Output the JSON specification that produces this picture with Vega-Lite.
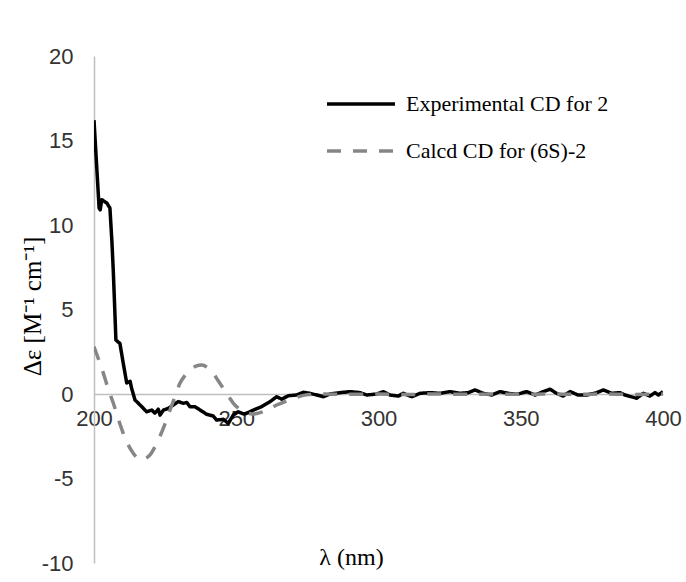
{
  "$schema": "https://vega.github.io/schema/vega-lite/v6.json",
  "width": 569,
  "height": 507,
  "autosize": {"type": "none"},
  "padding": {"left": 94, "top": 56, "right": 23, "bottom": 19},
  "background": "white",
  "config": {"view": {"stroke": null}},
  "datasets": {
    "exp": [
      {"wl": 200, "de": 16.2}, {"wl": 200.9, "de": 13.6}, {"wl": 201.8, "de": 11.0}, {"wl": 202.2, "de": 10.9},
      {"wl": 202.7, "de": 11.5}, {"wl": 203.6, "de": 11.4}, {"wl": 204.5, "de": 11.3}, {"wl": 205.6, "de": 11.0},
      {"wl": 206.3, "de": 9.0}, {"wl": 206.8, "de": 7.2}, {"wl": 207.3, "de": 5.0}, {"wl": 207.7, "de": 3.2},
      {"wl": 208.3, "de": 3.1}, {"wl": 209.1, "de": 3.0}, {"wl": 210.3, "de": 1.8}, {"wl": 211.5, "de": 0.65},
      {"wl": 212.7, "de": 0.75}, {"wl": 213.2, "de": 0.35}, {"wl": 214.4, "de": -0.35}, {"wl": 216.2, "de": -0.65},
      {"wl": 218.5, "de": -1.05}, {"wl": 220.3, "de": -0.95}, {"wl": 221.4, "de": -1.13}, {"wl": 222.6, "de": -0.9},
      {"wl": 223.2, "de": -1.25}, {"wl": 224.4, "de": -0.95}, {"wl": 226.1, "de": -0.85}, {"wl": 227.9, "de": -0.65},
      {"wl": 229.6, "de": -0.45}, {"wl": 231.4, "de": -0.55}, {"wl": 232.6, "de": -0.5}, {"wl": 233.7, "de": -0.75},
      {"wl": 235.5, "de": -0.75}, {"wl": 237.3, "de": -0.95}, {"wl": 239.6, "de": -1.2}, {"wl": 241.9, "de": -1.3},
      {"wl": 243.1, "de": -1.54}, {"wl": 245.5, "de": -1.5}, {"wl": 247.2, "de": -1.74}, {"wl": 249.0, "de": -1.24},
      {"wl": 250.7, "de": -1.05}, {"wl": 252.5, "de": -1.18}, {"wl": 253.7, "de": -1.14}, {"wl": 256.0, "de": -0.95},
      {"wl": 258.9, "de": -0.75}, {"wl": 261.9, "de": -0.45}, {"wl": 264.2, "de": -0.16}, {"wl": 266.0, "de": -0.31},
      {"wl": 268.3, "de": -0.1}, {"wl": 271.2, "de": -0.06}, {"wl": 273.6, "de": 0.1}, {"wl": 275.9, "de": 0.04},
      {"wl": 278.3, "de": -0.06}, {"wl": 280.6, "de": -0.16}, {"wl": 283, "de": 0}, {"wl": 286.5, "de": 0.08},
      {"wl": 290, "de": 0.14}, {"wl": 293.5, "de": 0.08}, {"wl": 295.9, "de": -0.06}, {"wl": 299.4, "de": 0},
      {"wl": 301.7, "de": 0.14}, {"wl": 304, "de": -0.06}, {"wl": 307, "de": -0.12}, {"wl": 308.7, "de": 0.04},
      {"wl": 311.7, "de": -0.16}, {"wl": 314.6, "de": 0.04}, {"wl": 318.1, "de": 0.08}, {"wl": 321.6, "de": 0.04},
      {"wl": 325.1, "de": 0.14}, {"wl": 328.6, "de": 0.04}, {"wl": 331.6, "de": 0.08}, {"wl": 333.9, "de": 0.24},
      {"wl": 336.8, "de": 0.04}, {"wl": 339.8, "de": -0.06}, {"wl": 342.7, "de": 0.14}, {"wl": 345.6, "de": 0.04},
      {"wl": 348.6, "de": -0.02}, {"wl": 352.1, "de": 0.14}, {"wl": 355, "de": -0.06}, {"wl": 357.9, "de": 0.14},
      {"wl": 360.3, "de": 0.28}, {"wl": 362.6, "de": 0.04}, {"wl": 364.9, "de": -0.12}, {"wl": 367.3, "de": 0.14},
      {"wl": 370.2, "de": -0.06}, {"wl": 373.2, "de": -0.06}, {"wl": 376.7, "de": 0.08}, {"wl": 379, "de": 0.24},
      {"wl": 382, "de": 0.04}, {"wl": 384.9, "de": 0.08}, {"wl": 386.6, "de": -0.06}, {"wl": 390.7, "de": -0.25},
      {"wl": 393.1, "de": 0.04}, {"wl": 395.4, "de": -0.12}, {"wl": 397.2, "de": 0.08}, {"wl": 398.4, "de": -0.06},
      {"wl": 400, "de": 0.14}
    ],
    "calc": [
      {"wl": 200, "de": 2.8}, {"wl": 201.5, "de": 2.1}, {"wl": 203.3, "de": 1.22}, {"wl": 205, "de": 0.3},
      {"wl": 206.8, "de": -0.55}, {"wl": 208.5, "de": -1.45}, {"wl": 210.3, "de": -2.33}, {"wl": 212, "de": -3.0},
      {"wl": 213.8, "de": -3.5}, {"wl": 215.3, "de": -3.8}, {"wl": 216.8, "de": -3.9}, {"wl": 218.2, "de": -3.8},
      {"wl": 219.7, "de": -3.6}, {"wl": 221.5, "de": -3.1}, {"wl": 223.2, "de": -2.5}, {"wl": 225, "de": -1.75},
      {"wl": 226.7, "de": -0.95}, {"wl": 228.5, "de": -0.15}, {"wl": 230.2, "de": 0.63}, {"wl": 232, "de": 1.1},
      {"wl": 233.7, "de": 1.42}, {"wl": 235.8, "de": 1.65}, {"wl": 237.9, "de": 1.72}, {"wl": 240, "de": 1.55},
      {"wl": 241.9, "de": 1.22}, {"wl": 243.6, "de": 0.8}, {"wl": 245.4, "de": 0.34}, {"wl": 247.2, "de": -0.12},
      {"wl": 249, "de": -0.55}, {"wl": 250.8, "de": -0.85}, {"wl": 252.5, "de": -1.05}, {"wl": 254.3, "de": -1.15},
      {"wl": 256, "de": -1.18}, {"wl": 257.8, "de": -1.13}, {"wl": 259.5, "de": -1.05}, {"wl": 262, "de": -0.85},
      {"wl": 264.2, "de": -0.65}, {"wl": 266.5, "de": -0.5}, {"wl": 268.9, "de": -0.31}, {"wl": 271.2, "de": -0.2},
      {"wl": 273.6, "de": -0.08}, {"wl": 276, "de": -0.03}, {"wl": 280, "de": 0}, {"wl": 290, "de": -0.02},
      {"wl": 300, "de": 0}, {"wl": 310, "de": -0.03}, {"wl": 320, "de": 0}, {"wl": 330, "de": -0.02},
      {"wl": 340, "de": 0}, {"wl": 350, "de": -0.02}, {"wl": 360, "de": 0}, {"wl": 370, "de": -0.02},
      {"wl": 380, "de": 0}, {"wl": 390, "de": -0.03}, {"wl": 400, "de": 0}
    ]
  },
  "encoding": {
    "x": {
      "field": "wl", "type": "quantitative",
      "scale": {"domain": [200, 400], "nice": false, "zero": false},
      "axis": {
        "orient": "bottom", "offset": -169, "values": [200, 250, 300, 350, 400],
        "domainColor": "#BFBFBF", "domainWidth": 1.5, "ticks": false, "grid": false,
        "labelFont": "Liberation Sans", "labelFontSize": 22, "labelColor": "#333333",
        "labelPadding": 14, "labelFlush": false, "labelOverlap": false,
        "labelExpr": "toString(datum.value)",
        "title": "λ (nm)", "titleFont": "Liberation Serif", "titleFontSize": 24,
        "titleFontWeight": "normal", "titleColor": "black",
        "titleX": 257, "titleY": 170, "titleAlign": "center", "titleBaseline": "alphabetic"
      }
    },
    "y": {
      "field": "de", "type": "quantitative",
      "scale": {"domain": [-10, 20], "nice": false, "zero": false},
      "axis": {
        "values": [-10, -5, 0, 5, 10, 15, 20],
        "domainColor": "#BFBFBF", "domainWidth": 1.5, "ticks": false, "grid": false,
        "labelFont": "Liberation Sans", "labelFontSize": 22, "labelColor": "#333333",
        "labelPadding": 21, "labelFlush": false, "labelOverlap": false,
        "labelExpr": "toString(datum.value)",
        "title": "Δε [M⁻¹ cm⁻¹]", "titleFont": "Liberation Serif", "titleFontSize": 25,
        "titleFontWeight": "normal", "titleColor": "black",
        "titleX": -62, "titleY": 250, "titleAngle": 270, "titleAlign": "center", "titleBaseline": "middle"
      }
    },
    "color": {
      "field": "series", "type": "nominal",
      "scale": {"domain": ["Experimental CD for 2", "Calcd CD for (6S)-2"], "range": ["#000000", "#868686"]},
      "legend": {
        "orient": "none", "legendX": 231, "legendY": 12, "title": null, "padding": 0,
        "symbolType": "stroke", "symbolSize": 4624, "symbolStrokeWidth": 3.5,
        "labelFont": "Liberation Serif", "labelFontSize": 22, "labelColor": "black",
        "labelOffset": 9, "labelLimit": 400, "rowPadding": 0, "direction": "vertical"
      }
    },
    "strokeDash": {
      "field": "series", "type": "nominal",
      "scale": {"domain": ["Experimental CD for 2", "Calcd CD for (6S)-2"], "range": [[1, 0], [14, 12]]}
    }
  },
  "layer": [
    {
      "data": {"name": "exp"},
      "mark": {"type": "line", "strokeWidth": 3.5, "strokeJoin": "round", "clip": true},
      "encoding": {"color": {"datum": "Experimental CD for 2"}, "strokeDash": {"datum": "Experimental CD for 2"}}
    },
    {
      "data": {"name": "calc"},
      "mark": {"type": "line", "strokeWidth": 3.5, "strokeCap": "butt", "interpolate": "monotone", "clip": true},
      "encoding": {"color": {"datum": "Calcd CD for (6S)-2"}, "strokeDash": {"datum": "Calcd CD for (6S)-2"}}
    }
  ]
}
